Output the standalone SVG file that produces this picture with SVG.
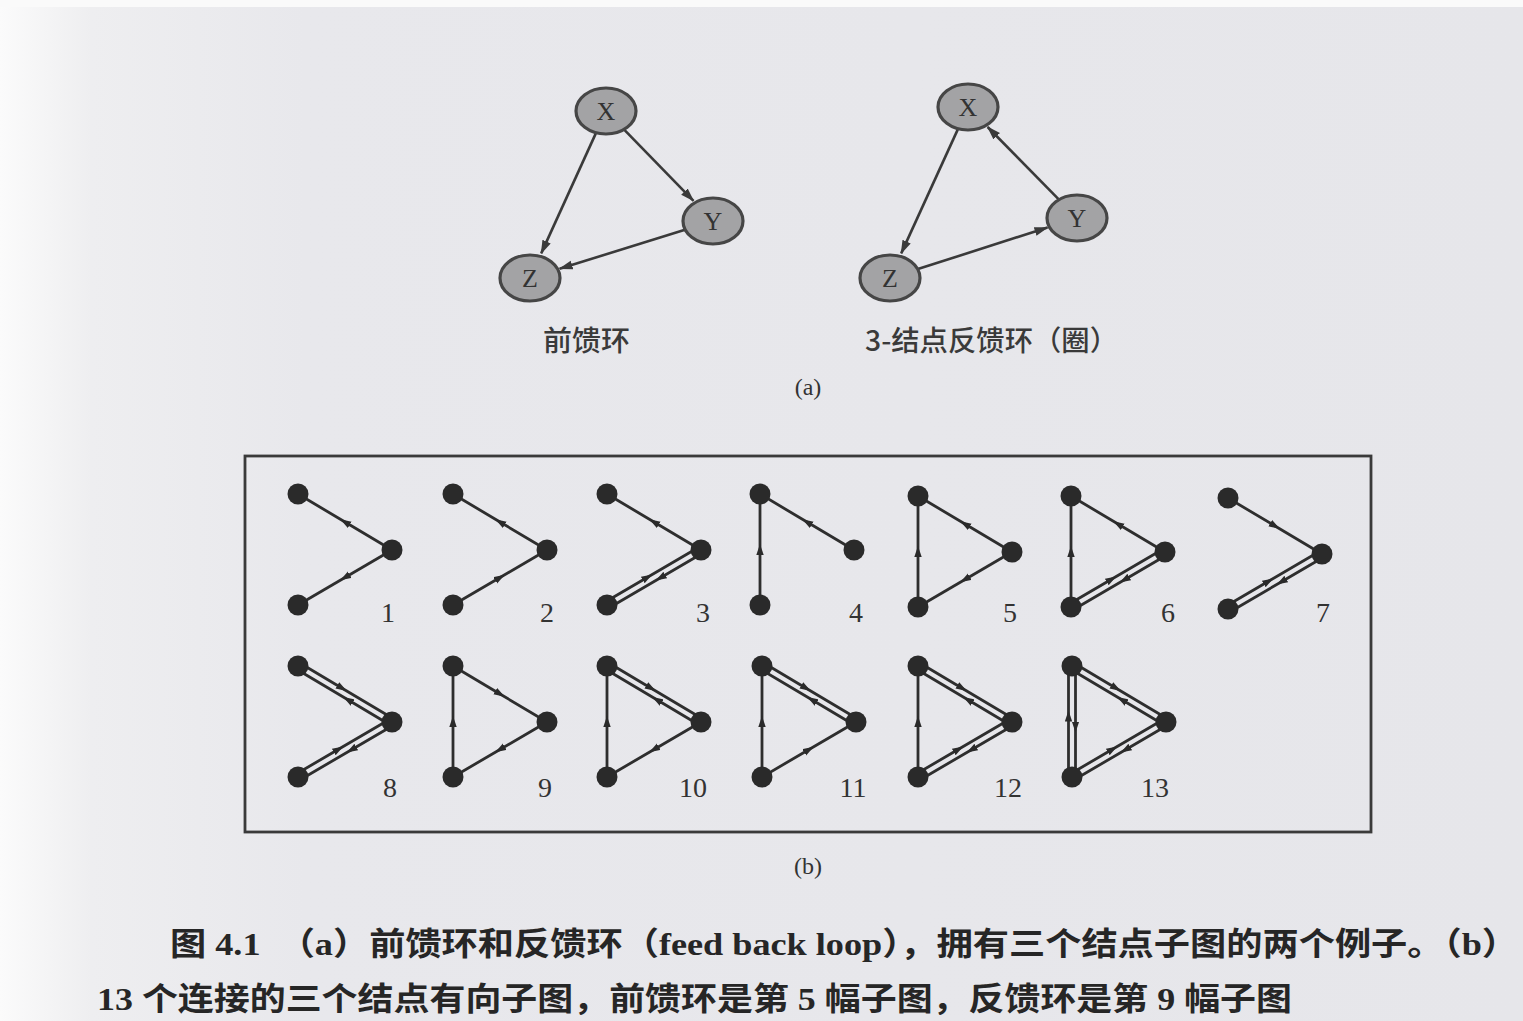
<svg xmlns="http://www.w3.org/2000/svg" xmlns:xlink="http://www.w3.org/1999/xlink" width="1523" height="1021" viewBox="0 0 1523 1021">
<style>
.ed{fill:none;stroke:#2e2e2e;stroke-width:2.8;marker-mid:url(#mh)}
.dot{fill:#2a2a2a}
.num{font-family:"Liberation Serif",serif;font-size:28px;fill:#333;text-anchor:middle}
.ell{fill:#a3a3a5;stroke:#464646;stroke-width:3.2}
.nl{font-family:"Liberation Serif",serif;font-size:26px;fill:#333;text-anchor:middle}
.ac{fill:none;stroke:#3a3a3a;stroke-width:2.6;marker-end:url(#ea)}
.lab{font-family:"Noto Sans CJK SC",sans-serif;font-size:28px;font-weight:500;fill:#3a3a3a}
.sub{font-family:"Liberation Serif",serif;font-size:24px;fill:#333;text-anchor:middle}
.cap{font-family:"Liberation Serif","Noto Sans CJK SC",serif;font-size:32px;font-weight:bold;fill:#262626}
</style>
<defs>
<linearGradient id="pg" x1="0" y1="0" x2="1" y2="0">
<stop offset="0" stop-color="#fbfbfb"/>
<stop offset="0.06" stop-color="#eeeef0"/>
<stop offset="0.2" stop-color="#e8e8ec"/>
<stop offset="1" stop-color="#e6e6ea"/>
</linearGradient>
<marker id="mh" viewBox="0 0 11 8" refX="5.5" refY="4" markerWidth="11" markerHeight="8" markerUnits="userSpaceOnUse" orient="auto"><path d="M0,0.3 L11,4 L0,7.7 z" fill="#2a2a2a"/></marker>
<marker id="ea" viewBox="0 0 14 10" refX="13" refY="5" markerWidth="14" markerHeight="10" markerUnits="userSpaceOnUse" orient="auto"><path d="M0,0.5 L14,5 L0,9.5 z" fill="#3a3a3a"/></marker>
<polyline id="tr" class="ed" points="0,0 47,28 94,56"/>
<polyline id="rt" class="ed" points="94,56 47,28 0,0"/>
<polyline id="br" class="ed" points="0,111 47,83.5 94,56"/>
<polyline id="rb" class="ed" points="94,56 47,83.5 0,111"/>
<polyline id="bt" class="ed" points="0,111 0,55.5 0,0"/>
<g id="dtr"><polyline class="ed" points="1.8,-3 44.1,22.2 95.8,53"/><polyline class="ed" points="92.2,59 49.9,33.8 -1.8,3"/></g>
<g id="dbr"><polyline class="ed" points="-1.8,108 40.5,83.25 92.2,53"/><polyline class="ed" points="95.8,59 53.5,83.75 1.8,114"/></g>
<g id="dbt"><polyline class="ed" points="-3.5,111 -3.5,50 -3.5,0"/><polyline class="ed" points="3.5,0 3.5,61 3.5,111"/></g>
<g id="nd"><circle class="dot" cx="0" cy="0" r="10.5"/><circle class="dot" cx="94" cy="56" r="10.5"/><circle class="dot" cx="0" cy="111" r="10.5"/></g>
</defs>
<rect x="0" y="0" width="1523" height="1021" fill="url(#pg)"/>
<rect x="0" y="0" width="1523" height="7" fill="#fafafa"/>

<!-- Part (a) -->
<g id="connectors-a">
<path class="ac" d="M624.4,129.9 L693.5,200.9"/>
<path class="ac" d="M595.7,133.6 L541.2,253.4"/>
<path class="ac" d="M685,229.7 L559.6,268.8"/>
<path class="ac" d="M957.7,129.6 L901.2,253.4"/>
<path class="ac" d="M1058.5,199.2 L987.6,127"/>
<path class="ac" d="M917.9,269.1 L1047.5,227.5"/>
</g>
<g id="ffl-X"><ellipse class="ell" cx="606" cy="111" rx="30" ry="23"/><text class="nl" x="606" y="120">X</text></g>
<g id="ffl-Y"><ellipse class="ell" cx="713" cy="221" rx="30" ry="23"/><text class="nl" x="713" y="230">Y</text></g>
<g id="ffl-Z"><ellipse class="ell" cx="530" cy="278" rx="30" ry="23"/><text class="nl" x="530" y="287">Z</text></g>
<g id="fbl-X"><ellipse class="ell" cx="968" cy="107" rx="30" ry="23"/><text class="nl" x="968" y="116">X</text></g>
<g id="fbl-Y"><ellipse class="ell" cx="1077" cy="218" rx="30" ry="23"/><text class="nl" x="1077" y="227">Y</text></g>
<g id="fbl-Z"><ellipse class="ell" cx="890" cy="278" rx="30" ry="23"/><text class="nl" x="890" y="287">Z</text></g>
<text class="lab" x="543" y="351" textLength="87" lengthAdjust="spacingAndGlyphs">前馈环</text>
<text class="lab" x="865" y="351" textLength="253" lengthAdjust="spacingAndGlyphs">3-结点反馈环（圈）</text>
<text class="sub" x="808" y="395">(a)</text>

<!-- Part (b) -->
<rect x="245" y="456" width="1126" height="376" fill="none" stroke="#3a3a3a" stroke-width="2.8"/>

<g id="m1" transform="translate(298,494)"><g class="conn"><use href="#rt"/><use href="#rb"/></g><use href="#nd"/></g>
<g id="m2" transform="translate(453,494)"><g class="conn"><use href="#br"/><use href="#rt"/></g><use href="#nd"/></g>
<g id="m3" transform="translate(607,494)"><g class="conn"><use href="#rt"/><use href="#dbr"/></g><use href="#nd"/></g>
<g id="m4" transform="translate(760,494)"><g class="conn"><use href="#bt"/><use href="#rt"/></g><use href="#nd"/></g>
<g id="m5" transform="translate(918,496)"><g class="conn"><use href="#bt"/><use href="#rt"/><use href="#rb"/></g><use href="#nd"/></g>
<g id="m6" transform="translate(1071,496)"><g class="conn"><use href="#bt"/><use href="#rt"/><use href="#dbr"/></g><use href="#nd"/></g>
<g id="m7" transform="translate(1228,498)"><g class="conn"><use href="#tr"/><use href="#dbr"/></g><use href="#nd"/></g>

<g id="m8" transform="translate(298,666)"><g class="conn"><use href="#dtr"/><use href="#dbr"/></g><use href="#nd"/></g>
<g id="m9" transform="translate(453,666)"><g class="conn"><use href="#bt"/><use href="#tr"/><use href="#rb"/></g><use href="#nd"/></g>
<g id="m10" transform="translate(607,666)"><g class="conn"><use href="#dtr"/><use href="#bt"/><use href="#rb"/></g><use href="#nd"/></g>
<g id="m11" transform="translate(762,666)"><g class="conn"><use href="#dtr"/><use href="#bt"/><use href="#br"/></g><use href="#nd"/></g>
<g id="m12" transform="translate(918,666)"><g class="conn"><use href="#dtr"/><use href="#dbr"/><use href="#bt"/></g><use href="#nd"/></g>
<g id="m13" transform="translate(1072,666)"><g class="conn"><use href="#dtr"/><use href="#dbr"/><use href="#dbt"/></g><use href="#nd"/></g>

<g id="labels-b">
<text class="num" x="388" y="622">1</text>
<text class="num" x="547" y="622">2</text>
<text class="num" x="703" y="622">3</text>
<text class="num" x="856" y="622">4</text>
<text class="num" x="1010" y="622">5</text>
<text class="num" x="1168" y="622">6</text>
<text class="num" x="1323" y="622">7</text>
<text class="num" x="390" y="797">8</text>
<text class="num" x="545" y="797">9</text>
<text class="num" x="693" y="797">10</text>
<text class="num" x="853" y="797">11</text>
<text class="num" x="1008" y="797">12</text>
<text class="num" x="1155" y="797">13</text>
</g>
<text class="sub" x="808" y="874">(b)</text>

<!-- Caption -->
<text class="cap" x="170" y="955" textLength="1348" lengthAdjust="spacingAndGlyphs">图 4.1　（a）前馈环和反馈环（feed back loop），拥有三个结点子图的两个例子。（b）</text>
<text class="cap" x="97" y="1010" textLength="1195" lengthAdjust="spacingAndGlyphs">13 个连接的三个结点有向子图，前馈环是第 5 幅子图，反馈环是第 9 幅子图</text>
</svg>
